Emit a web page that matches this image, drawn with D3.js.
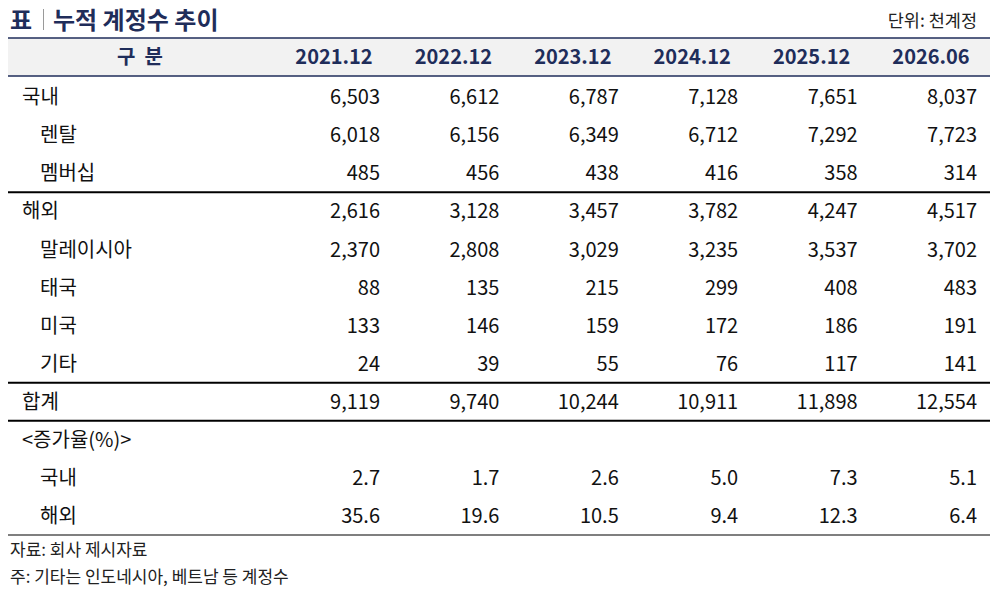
<!DOCTYPE html>
<html>
<head>
<meta charset="utf-8">
<script src="https://cdn.jsdelivr.net/npm/d3@7"></script>
<style>
  body { margin: 0; background: #fff; }
  text { font-family: "Noto Sans CJK KR", "Noto Sans", sans-serif; }
</style>
</head>
<body>
<svg id="chart"></svg>
<script>
const periods = ["2021.12", "2022.12", "2023.12", "2024.12", "2025.12", "2026.06"];
const rowLabels = ["국내", "렌탈", "멤버십", "해외", "말레이시아", "태국", "미국", "기타", "합계", "<증가율(%)>", "국내", "해외"];
const rowIndent = [0, 1, 1, 0, 1, 1, 1, 1, 0, 0, 1, 1];
const domestic = [6503, 6612, 6787, 7128, 7651, 8037];
const rental = [6018, 6156, 6349, 6712, 7292, 7723];
const membership = [485, 456, 438, 416, 358, 314];
const overseas = [2616, 3128, 3457, 3782, 4247, 4517];
const malaysia = [2370, 2808, 3029, 3235, 3537, 3702];
const thailand = [88, 135, 215, 299, 408, 483];
const usa = [133, 146, 159, 172, 186, 191];
const others = [24, 39, 55, 76, 117, 141];
const total = [9119, 9740, 10244, 10911, 11898, 12554];
const growthDomestic = [2.7, 1.7, 2.6, 5.0, 7.3, 5.1];
const growthOverseas = [35.6, 19.6, 10.5, 9.4, 12.3, 6.4];
const sectionBreaks = [3, 8, 9]; // row index where a thick rule sits above

const width = 998, height = 600;
const svg = d3.select("#chart").attr("width", width).attr("height", height);

const left = 8, right = 990;
const headTop = 38, headBottom = 76;

const fmtInt = d3.format(",");
const fmtPct = d3.format(".1f");
const rows = [
  domestic, rental, membership, overseas, malaysia, thailand, usa, others, total,
  null, growthDomestic, growthOverseas
].map((vals, i) => ({
  label: rowLabels[i],
  indent: rowIndent[i],
  values: vals ? vals.map(v => (i >= 10 ? fmtPct(v) : fmtInt(v))) : []
}));

const y = d3.scaleBand().domain(d3.range(rows.length)).range([headBottom + 2, 535]);
const x = d3.scalePoint().domain(periods).range([380, 977]);

// title
svg.append("text").attr("x", 10).attr("y", 29)
  .attr("font-size", 24).attr("font-weight", 700).attr("fill", "#1f2d5a").text("표");
svg.append("line").attr("x1", 43.5).attr("x2", 43.5).attr("y1", 9).attr("y2", 30)
  .attr("stroke", "#9a9a9a").attr("stroke-width", 1);
svg.append("text").attr("x", 53).attr("y", 29)
  .attr("font-size", 24).attr("font-weight", 700).attr("fill", "#1f2d5a").text("누적 계정수 추이");
svg.append("text").attr("x", 977).attr("y", 27).attr("text-anchor", "end")
  .attr("font-size", 17.5).attr("fill", "#222").text("단위: 천계정");

// header
svg.append("rect").attr("x", left).attr("y", headTop).attr("width", right - left)
  .attr("height", headBottom - headTop).attr("fill", "#f2f2f2");
[headTop, headBottom].forEach(v => {
  svg.append("line").attr("x1", left).attr("x2", right).attr("y1", v).attr("y2", v)
    .attr("stroke", "#1f2d5a").attr("stroke-width", 1.5);
});
svg.append("text").attr("x", 140).attr("y", (headTop + headBottom) / 2).attr("dy", "0.36em")
  .attr("text-anchor", "middle").attr("font-size", 20).attr("font-weight", 700)
  .attr("fill", "#1f2d5a").attr("xml:space", "preserve").text("구  분");
svg.selectAll("text.head").data(periods).join("text").attr("class", "head")
  .attr("x", d => x(d) - 46).attr("y", (headTop + headBottom) / 2).attr("dy", "0.36em")
  .attr("text-anchor", "middle").attr("font-size", 20).attr("font-weight", 700)
  .attr("fill", "#1f2d5a").text(d => d);

// body rows
const g = svg.selectAll("g.row").data(rows).join("g").attr("class", "row")
  .attr("transform", (d, i) => `translate(0,${y(i) + y.bandwidth() / 2})`);
g.append("text").attr("x", d => (d.indent ? 40 : 22)).attr("dy", "0.36em")
  .attr("font-size", 20).attr("fill", "#111").text(d => d.label);
g.selectAll("text.val").data(d => d.values).join("text").attr("class", "val")
  .attr("x", (d, j) => x(periods[j])).attr("dy", "0.36em").attr("text-anchor", "end")
  .attr("font-size", 20).attr("fill", "#111").text(d => d);

// rules
sectionBreaks.forEach(i => {
  svg.append("line").attr("x1", left).attr("x2", right).attr("y1", y(i)).attr("y2", y(i))
    .attr("stroke", "#000").attr("stroke-width", 2);
});
svg.append("line").attr("x1", left).attr("x2", right).attr("y1", 535).attr("y2", 535)
  .attr("stroke", "#000").attr("stroke-width", 1.2);

// notes
svg.append("text").attr("x", 10).attr("y", 556).attr("font-size", 17).attr("fill", "#222")
  .text("자료: 회사 제시자료");
svg.append("text").attr("x", 10).attr("y", 583).attr("font-size", 17).attr("fill", "#222")
  .text("주: 기타는 인도네시아, 베트남 등 계정수");
</script>
</body>
</html>
